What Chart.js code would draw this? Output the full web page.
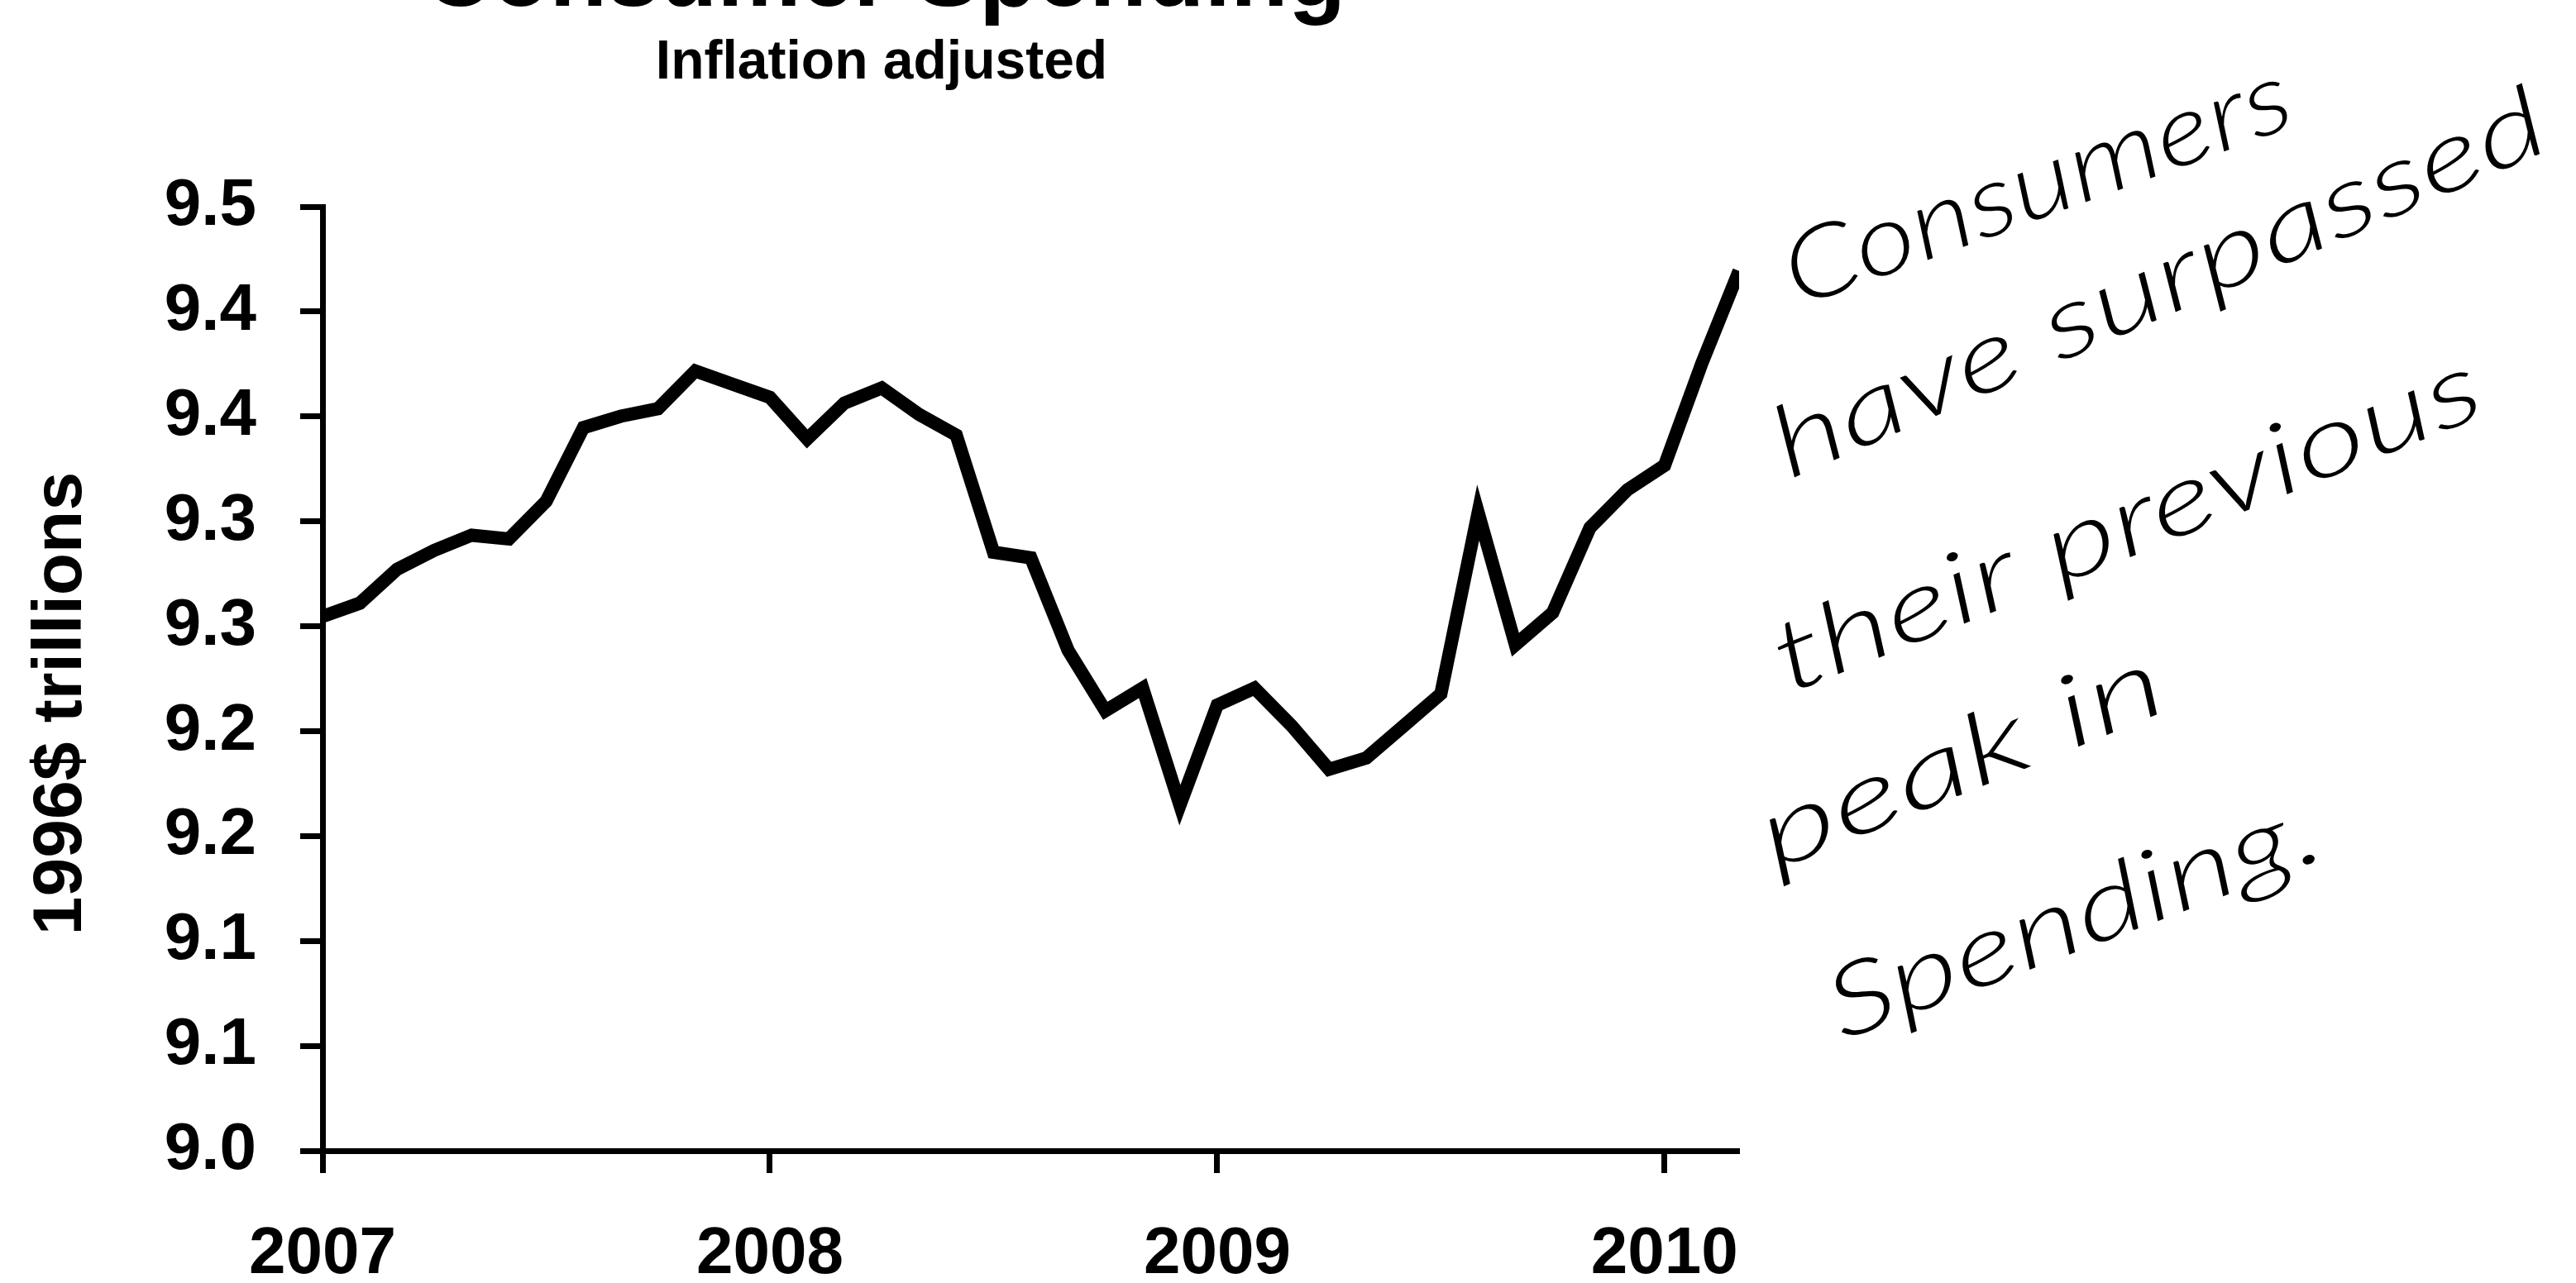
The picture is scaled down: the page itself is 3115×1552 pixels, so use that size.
<!DOCTYPE html>
<html>
<head>
<meta charset="utf-8">
<script src="https://cdn.jsdelivr.net/npm/chart.js@4.4.1/dist/chart.umd.min.js"></script>
<style>
html,body{margin:0;padding:0;background:#fff;overflow:hidden}
#wrap{position:relative;width:3115px;height:1552px;background:#fff}
canvas{display:block}
</style>
</head>
<body>
<div id="wrap"><canvas id="c" width="3115" height="1552"></canvas></div>
<script>
// ---- data ----
const titleText = 'Consumer Spending';
const subtitleText = 'Inflation adjusted';
const yAxisTitle = '1996$ trillions';

const months = [
  '2007-01','2007-02','2007-03','2007-04','2007-05','2007-06','2007-07','2007-08','2007-09','2007-10','2007-11','2007-12',
  '2008-01','2008-02','2008-03','2008-04','2008-05','2008-06','2008-07','2008-08','2008-09','2008-10','2008-11','2008-12',
  '2009-01','2009-02','2009-03','2009-04','2009-05','2009-06','2009-07','2009-08','2009-09','2009-10','2009-11','2009-12',
  '2010-01','2010-02','2010-03'
];
const spending = [
  9.283, 9.290, 9.308, 9.318, 9.326, 9.324, 9.344, 9.383, 9.389, 9.393, 9.413, 9.406,
  9.399, 9.377, 9.396, 9.404, 9.390, 9.379, 9.317, 9.314, 9.265, 9.233, 9.245, 9.183,
  9.236, 9.245, 9.225, 9.202, 9.208, 9.225, 9.242, 9.338, 9.268, 9.285, 9.330, 9.350,
  9.363, 9.417, 9.466
];
const xTickMonths = ['2007-01','2008-01','2009-01','2010-01'];
const xTickLabels = ['2007','2008','2009','2010'];
const yMin = 9.0, yMax = 9.5;
const yTickLabels = ['9.0','9.1','9.1','9.2','9.2','9.3','9.3','9.4','9.4','9.5'];
const noteLines = ['Consumers','have surpassed','their previous','peak in','Spending.'];

// ---- layout / style ----
const FONT = '"Liberation Sans", Arial, sans-serif';
const noteLayout = [
  [2174, 372, 2780, 150],
  [2164, 580, 3088, 179],
  [2164, 839, 3010, 500],
  [2146, 1054, 2626, 857],
  [2228, 1259, 2815, 1036]
];

const textPlugin = {
  id: 'texts',
  afterDraw(chart) {
    const ctx = chart.ctx;
    ctx.save();
    ctx.fillStyle = '#000';
    ctx.textBaseline = 'alphabetic';
    ctx.textAlign = 'center';
    ctx.font = 'bold 114px ' + FONT;
    ctx.fillText(titleText, 1070, 7);
    ctx.font = 'bold 66px ' + FONT;
    ctx.fillText(subtitleText, 1066, 95);
    // y axis title
    ctx.save();
    ctx.translate(75, 851);
    ctx.rotate(-Math.PI / 2);
    ctx.textBaseline = 'middle';
    ctx.font = 'bold 84px ' + FONT;
    ctx.fillText(yAxisTitle, 0, 0);
    ctx.restore();
    // handwritten note
    ctx.textAlign = 'left';
    ctx.textBaseline = 'alphabetic';
    ctx.font = 'italic 300 120px Lato, "DejaVu Sans", sans-serif';
    noteLines.forEach((t, i) => {
      const [x0, y0, x1, y1] = noteLayout[i];
      const L = Math.hypot(x1 - x0, y1 - y0);
      const a = Math.atan2(y1 - y0, x1 - x0);
      const w = ctx.measureText(t).width;
      ctx.save();
      ctx.translate(x0, y0);
      ctx.rotate(a);
      ctx.scale(L / w, 1);
      ctx.fillText(t, 0, 0);
      ctx.restore();
    });
    ctx.restore();
  }
};

const gridOpts = {
  drawOnChartArea: false,
  drawTicks: true,
  tickLength: 27,
  tickWidth: 7,
  tickColor: '#000'
};
const borderOpts = { display: true, color: '#000', width: 7 };

new Chart(document.getElementById('c'), {
  type: 'line',
  data: {
    datasets: [{
      data: spending.map((v, i) => ({ x: i, y: v })),
      borderColor: '#000',
      borderWidth: 16,
      pointRadius: 0,
      tension: 0,
      fill: false,
      borderJoinStyle: 'miter'
    }]
  },
  options: {
    responsive: false,
    animation: false,
    devicePixelRatio: 1,
    layout: { padding: { left: 0, top: 250, right: 1012, bottom: 0 } },
    plugins: { legend: { display: false }, tooltip: { enabled: false } },
    scales: {
      x: {
        type: 'linear',
        position: 'bottom',
        min: 0,
        max: months.length - 1,
        afterFit: s => { s.height = 160; },
        afterBuildTicks: s => { s.ticks = xTickMonths.map(m => ({ value: months.indexOf(m) })); },
        grid: gridOpts,
        border: borderOpts,
        ticks: {
          autoSkip: false,
          maxRotation: 0,
          padding: 51,
          color: '#000',
          font: { family: FONT, size: 80, weight: 'bold' },
          callback: (v) => xTickLabels[xTickMonths.indexOf(months[v])]
        }
      },
      y: {
        min: yMin,
        max: yMax,
        afterFit: s => { s.width = 390; },
        afterBuildTicks: s => {
          s.ticks = yTickLabels.map((_, k) => ({ value: yMin + k * (yMax - yMin) / (yTickLabels.length - 1) }));
        },
        grid: gridOpts,
        border: borderOpts,
        ticks: {
          autoSkip: false,
          padding: 53,
          color: '#000',
          font: { family: FONT, size: 80, weight: 'bold' },
          callback: (v, idx) => yTickLabels[idx]
        }
      }
    }
  },
  plugins: [textPlugin]
});
</script>
</body>
</html>
